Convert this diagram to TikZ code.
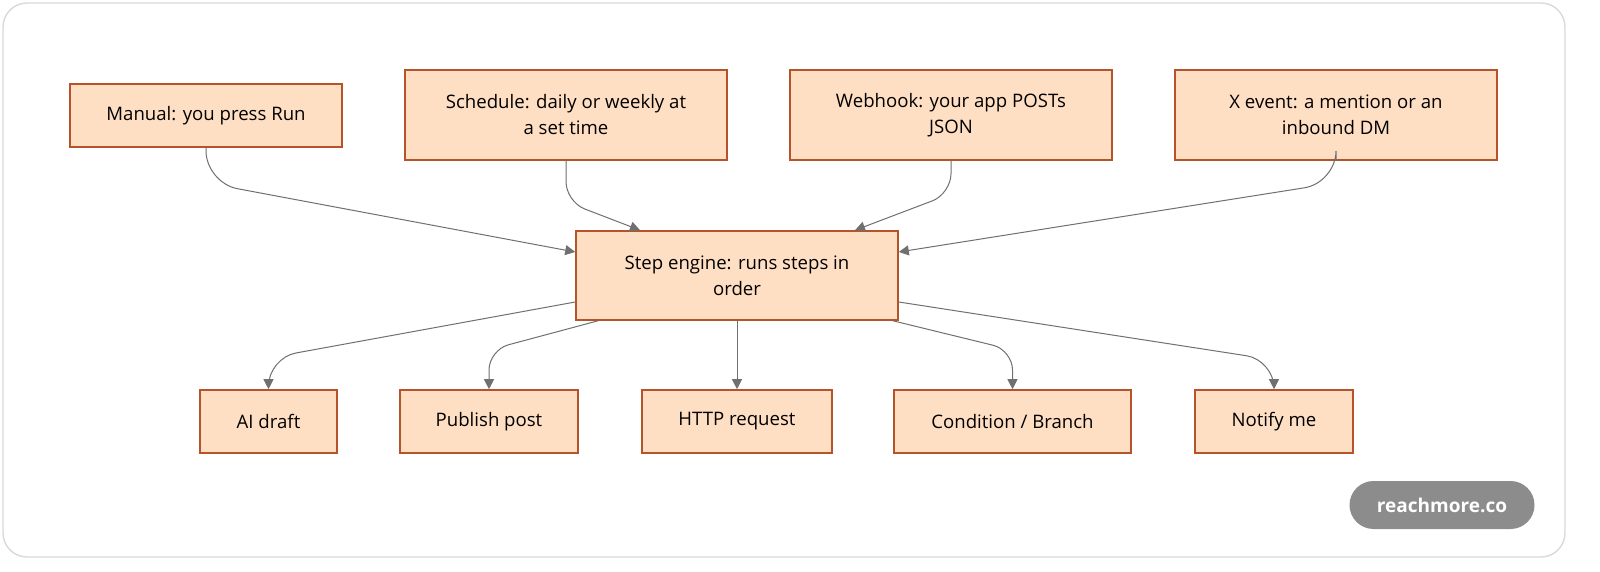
\documentclass[tikz,border=0pt]{standalone}
\usepackage{fontspec}
\setmainfont{Open Sans}
\usetikzlibrary{arrows.meta,positioning}
\definecolor{boxfill}{HTML}{FFDFC4}
\definecolor{boxline}{HTML}{B5532A}
\definecolor{edgegray}{HTML}{707070}
\tikzset{
  stepbox/.style={draw=boxline,fill=boxfill,line width=0.8pt,align=center,inner sep=0pt,
    font=\fontsize{9.3}{13}\selectfont},
  flow/.style={draw=edgegray,line width=0.5pt,rounded corners=16pt,-{Triangle[length=5pt,width=5pt]}}
}
\begin{document}
\begin{tikzpicture}[x=0.5pt,y=-0.5pt]
\useasboundingbox (0,0) rectangle (1600,572);
\draw[rounded corners=12pt,draw=black!15,line width=0.7pt,fill=white] (3,3) rectangle (1565,557);

\node[stepbox,minimum width=136pt,minimum height=31.5pt] (manual) at (206,115.5) {Manual: you press Run};
\node[stepbox,minimum width=161pt,minimum height=45pt] (sched) at (566,115) {Schedule: daily or weekly at\\a set time};
\node[stepbox,minimum width=161pt,minimum height=45pt] (hook) at (951,115) {Webhook: your app POSTs\\JSON};
\node[stepbox,minimum width=161pt,minimum height=45pt] (xev) at (1336,115) {X event: a mention or an\\inbound DM};
\node[stepbox,minimum width=161pt,minimum height=44.5pt] (engine) at (737,275.5) {Step engine: runs steps in\\order};

\node[stepbox,minimum width=68.5pt,minimum height=31.5pt] (draft) at (268.5,421.5) {AI draft};
\node[stepbox,minimum width=89pt,minimum height=31.5pt] (publish) at (489,421.5) {Publish post};
\node[stepbox,minimum width=95pt,minimum height=31.5pt] (http) at (737,421.5) {HTTP request};
\node[stepbox,minimum width=118.5pt,minimum height=31.5pt] (cond) at (1012.5,421.5) {Condition / Branch};
\node[stepbox,minimum width=79pt,minimum height=31.5pt] (notify) at (1274,421.5) {Notify me};

% triggers into the engine
\draw[flow] (manual.south) -- ++(0,35) -- ([yshift=11.75pt]engine.west);
\draw[flow,rounded corners=10pt] (sched.south) -- ++(0,41) -- ([xshift=-48.5pt]engine.north);
\draw[flow,rounded corners=10pt] (hook.south) -- ++(0,33) -- ([xshift=59pt]engine.north);
\draw[flow] (xev.south) -- ++(0,22) -- ([yshift=11.75pt]engine.east);

% engine into the steps
\draw[flow,rounded corners=14pt] ([yshift=-13.25pt]engine.west) -- (draft.north |- 0,358) -- (draft.north);
\draw[flow,rounded corners=10pt] ([xshift=-69.5pt]engine.south) -- (publish.north |- 0,350) -- (publish.north);
\draw[flow] (engine.south) -- (http.north);
\draw[flow,rounded corners=10pt] ([xshift=78pt]engine.south) -- (cond.north |- 0,350) -- (cond.north);
\draw[flow,rounded corners=14pt] ([yshift=-13.25pt]engine.east) -- (notify.north |- 0,360) -- (notify.north);

\node[fill=black!45,rounded corners=12pt,minimum width=92.5pt,minimum height=24pt,
  text=white,font=\fontsize{9.5}{11}\selectfont\bfseries] (badge) at (1442,505) {reachmore.co};
\end{tikzpicture}
\end{document}
